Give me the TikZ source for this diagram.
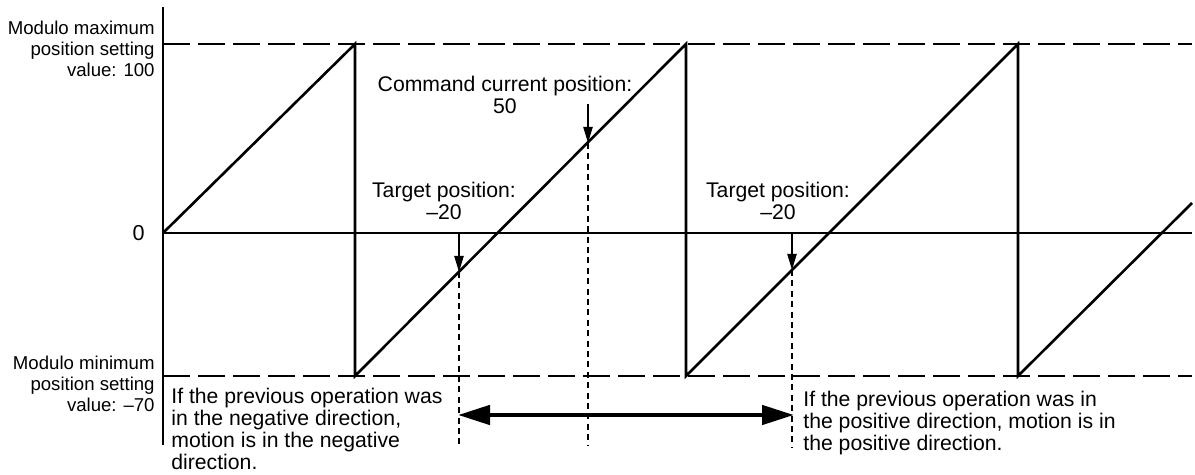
\documentclass[tikz,border=0pt]{standalone}
\usepackage{fontspec}
\setmainfont{Liberation Sans}
\usetikzlibrary{arrows.meta}
\begin{document}
\begin{tikzpicture}[x=0.5pt,y=-0.5pt,
  axisline/.style={line width=1pt},
  limitline/.style={line width=1.4pt, dash pattern=on 13.5pt off 4pt},
  saw/.style={line width=1.3pt, line join=miter},
  guide/.style={line width=0.9pt, dash pattern=on 3pt off 2.2pt},
  pointer/.style={line width=0.8pt, -{Triangle[length=8pt,width=4.6pt]}},
  span/.style={line width=2.3pt, {Triangle[length=16pt,width=9.5pt]}-{Triangle[length=16pt,width=9.5pt]}, shorten <=-1pt, shorten >=-1pt},
  lbl/.style={inner sep=0pt, font=\fontsize{9.3pt}{10.5pt}\selectfont, align=right, anchor=base east},
  note/.style={inner sep=0pt, font=\fontsize{10.6pt}{11.1pt}\selectfont},
]
\useasboundingbox (0,0) rectangle (1195,475);
% coordinates
\coordinate (axtop) at (163,7);
\coordinate (axbot) at (163,445);
\coordinate (o) at (163,233);
\coordinate (zend) at (1192,233);
\coordinate (maxs) at (163,44);
\coordinate (maxe) at (1192,44);
\coordinate (mins) at (163,376);
\coordinate (mine) at (1192,376);
\coordinate (t1) at (355,44);
\coordinate (b1) at (355,376);
\coordinate (t2) at (686,44);
\coordinate (b2) at (686,376);
\coordinate (t3) at (1018,44);
\coordinate (b3) at (1018,376);
\coordinate (send) at (1192,203);
% arrows/guides
\coordinate (a1s) at (459,233);
\coordinate (a1e) at (459,272);
\coordinate (a1b) at (459,445);
\coordinate (cs) at (588,104);
\coordinate (ce) at (588,143);
\coordinate (cb) at (588,445);
\coordinate (a2s) at (792,233);
\coordinate (a2e) at (792,270);
\coordinate (a2b) at (792,448);
\coordinate (dl) at (460,415);
\coordinate (dr) at (792,415);

% limit lines
\draw[limitline] (maxs) -- (maxe);
\draw[limitline] (mins) -- (mine);
% axes
\draw[axisline] (axtop) -- (axbot);
\draw[axisline] (o) -- (zend);
% sawtooth
\draw[saw] (o) -- (t1) -- (b1) -- (t2) -- (b2) -- (t3) -- (b3) -- (send);
% guides
\draw[guide] (a1e) -- (a1b);
\draw[guide] (ce) -- (cb);
\draw[guide] (a2e) -- (a2b);
% pointers
\draw[pointer] (a1s) -- (a1e);
\draw[pointer] (cs) -- (ce);
\draw[pointer] (a2s) -- (a2e);
% span arrow
\draw[span] (dl) -- (dr);

% labels (base anchor = baseline of last line)
\node[lbl] (lmax) at (155,77) {Modulo maximum\\position setting\\value: 100};
\node[lbl] (lmin) at (155,412) {Modulo minimum\\position setting\\value: –70};
\node[note, anchor=base east, font=\fontsize{10.8pt}{12pt}\selectfont] (zero) at (145,241) {0};
\node[note, align=center, anchor=base] (cmd) at (505,114) {Command current position:\\50};
\node[note, align=center, anchor=base] (tg1) at (444,220) {Target position:\\–20};
\node[note, align=center, anchor=base] (tg2) at (778,220) {Target position:\\–20};
\node[note, align=left, anchor=base west] (neg) at (171,470) {If the previous operation was\\in the negative direction,\\motion is in the negative\\direction.};
\node[note, align=left, anchor=base west] (pos) at (803,451) {If the previous operation was in\\the positive direction, motion is in\\the positive direction.};
\end{tikzpicture}
\end{document}
